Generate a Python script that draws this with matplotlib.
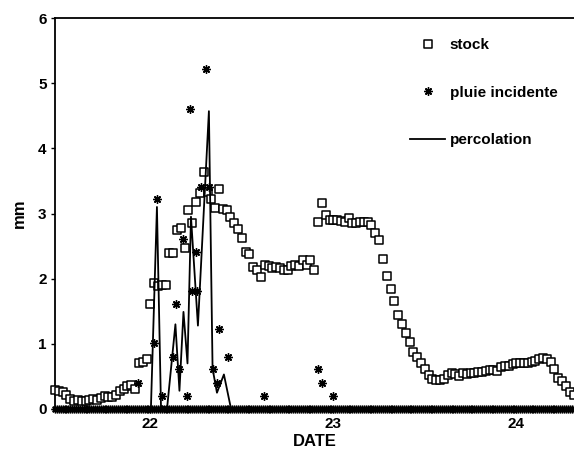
# Stock, pluie incidente et percolation (mm) en fonction de la date

import numpy as np
import matplotlib.pyplot as plt
from matplotlib.path import Path

plt.rcParams['font.family'] = ['Liberation Sans', 'DejaVu Sans']
plt.rcParams['font.weight'] = 'bold'

# Time grid of the stock readings (every 30 min, day of month)
t0 = 21.481
step = 1.0 / 48

# stock (mm), one value per half hour
stock = [0.29, 0.27, 0.26, 0.22, 0.15, 0.13, 0.14, 0.13, 0.12, 0.14,
         0.15, 0.14, 0.17, 0.20, 0.19, 0.18, 0.22, 0.28, 0.30, 0.36,
         0.37, 0.30, 0.71, 0.72, 0.76, 1.61, 1.93, 1.88, 1.90, 1.90,
         2.39, 2.39, 2.74, 2.77, 2.47, 3.05, 2.85, 3.17, 3.31, 3.63,
         3.33, 3.22, 3.08, 3.38, 3.07, 3.05, 2.95, 2.85, 2.76, 2.62,
         2.41, 2.38, 2.18, 2.13, 2.03, 2.21, 2.20, 2.16, 2.18, 2.16,
         2.14, 2.14, 2.20, 2.21, 2.20, 2.29, 2.21, 2.29, 2.13, 2.87,
         3.16, 2.98, 2.90, 2.90, 2.90, 2.89, 2.87, 2.93, 2.85, 2.86,
         2.87, 2.87, 2.87, 2.82, 2.70, 2.60, 2.30, 2.04, 1.84, 1.66,
         1.44, 1.30, 1.16, 1.03, 0.87, 0.80, 0.71, 0.62, 0.52, 0.46,
         0.44, 0.44, 0.46, 0.52, 0.55, 0.54, 0.50, 0.55, 0.54, 0.55,
         0.56, 0.57, 0.57, 0.59, 0.60, 0.60, 0.58, 0.64, 0.66, 0.66,
         0.69, 0.70, 0.70, 0.70, 0.71, 0.72, 0.74, 0.76, 0.78, 0.77,
         0.72, 0.62, 0.48, 0.43, 0.36, 0.26, 0.21]
t_stock = t0 + step * np.arange(len(stock))

# pluie incidente: non-zero readings (day, mm); every other quarter hour is 0
rain_t = [21.934, 22.022, 22.038, 22.063, 22.126, 22.142, 22.161, 22.180,
          22.205, 22.219, 22.230, 22.254, 22.257, 22.279, 22.306, 22.322,
          22.344, 22.366, 22.377, 22.426, 22.623, 22.918, 22.940, 23.000]
rain_mm = [0.40, 1.01, 3.22, 0.20, 0.80, 1.61, 0.62, 2.61,
           0.20, 4.61, 1.81, 2.41, 1.81, 3.41, 5.21, 3.41,
           0.61, 0.40, 1.22, 0.80, 0.20, 0.61, 0.40, 0.20]
t_rain0 = t0 + np.arange(273) / 96
rain_zero = [0.0] * len(t_rain0)

# percolation (day, mm)
perc_t = [21.481, 22.005, 22.038, 22.060, 22.093, 22.139, 22.161, 22.183,
          22.205, 22.224, 22.262, 22.322, 22.342, 22.366, 22.404, 22.443,
          24.317]
perc_mm = [0.0, 0.0, 3.10, 0.05, 0.0, 1.30, 0.28, 1.49,
           0.70, 2.95, 1.28, 4.57, 0.62, 0.25, 0.53, 0.0,
           0.0]

# slightly wide open rectangle for the stock
rect = Path([(-1.2, -1), (1.2, -1), (1.2, 1), (-1.2, 1), (-1.2, -1)],
            [Path.MOVETO, Path.LINETO, Path.LINETO, Path.LINETO, Path.CLOSEPOLY])
star = (8, 2, 0)

fig = plt.figure(figsize=(5.74, 4.49), dpi=100)
ax = fig.add_axes([55 / 574, 1 - 409 / 449, 1 - 55 / 574, (409 - 18) / 449])

ax.plot(t_stock, stock, linestyle='none', marker=rect, markersize=6.3,
        mfc='white', mec='black', mew=1.1, label='stock', clip_on=False, zorder=3)
ax.plot(t_rain0, rain_zero, linestyle='none', marker=star, markersize=5.5,
        mec='black', mew=1.0, clip_on=False, zorder=4)
ax.plot(rain_t, rain_mm, linestyle='none', marker=star, markersize=6,
        mec='black', mew=1.0, label='pluie incidente', clip_on=False, zorder=4)
ax.plot(perc_t, perc_mm, color='black', lw=1.3, label='percolation', zorder=5)

ax.set_xlim(21.481, 24.317)
ax.set_ylim(0, 6)
ax.set_xticks([22, 23, 24])
ax.set_yticks(range(7))
ax.tick_params(labelsize=11, length=3, width=1, pad=3)
for lab in ax.get_xticklabels() + ax.get_yticklabels():
    lab.set_fontweight('bold')

ax.spines['right'].set_visible(False)
for s in ['left', 'bottom', 'top']:
    ax.spines[s].set_linewidth(1.3)

ax.set_xlabel('DATE', fontsize=12, fontweight='bold', labelpad=2)
ax.set_ylabel('mm', fontsize=12, fontweight='bold', labelpad=8)

leg = ax.legend(loc='upper left', bbox_to_anchor=(410 / 574, 1 - 38 / 449),
                bbox_transform=fig.transFigure, frameon=False, numpoints=1,
                fontsize=11, labelspacing=2.2, handlelength=2.3,
                handletextpad=0.3, borderpad=0, borderaxespad=0)
for txt in leg.get_texts():
    txt.set_fontweight('bold')

fig.savefig('out.png', dpi=100)
